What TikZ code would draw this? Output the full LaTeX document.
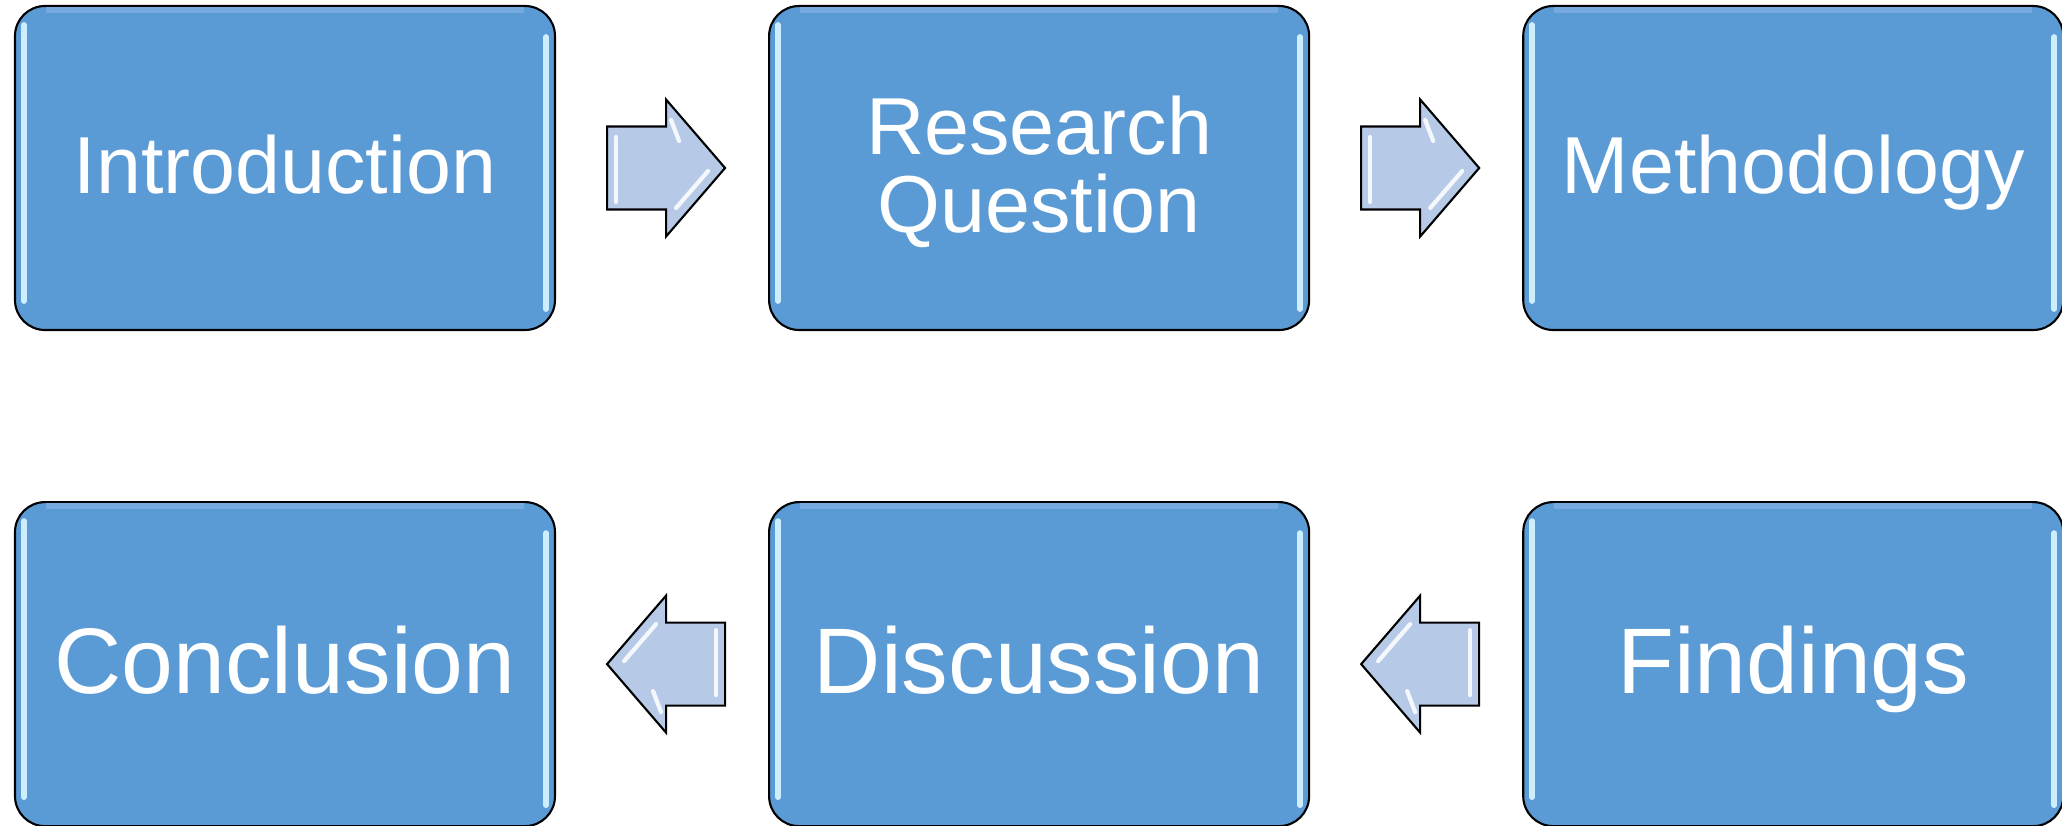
\documentclass[tikz,border=0pt]{standalone}
\usepackage{fontspec}
\setmainfont{Liberation Sans}
\usetikzlibrary{positioning, calc}
\definecolor{stageblue}{RGB}{91,155,213}
\definecolor{arrowblue}{RGB}{182,202,232}
\definecolor{glintblue}{RGB}{205,238,255}
\definecolor{topblue}{RGB}{118,170,222}

\tikzset{
  stage/.style={draw=black, line width=0.6pt, fill=stageblue, rounded corners=0.3cm,
    minimum width=5.4cm, minimum height=3.24cm, inner sep=0pt, text=white,
    align=center, text depth=0.08cm, font=\fontsize{23}{22.2}\selectfont},
  bigstage/.style={stage, font=\fontsize{26.5}{26}\selectfont},
  glint/.style={glintblue, line width=1.6pt, line cap=round},
  shine/.style={white, opacity=0.85, line width=1.2pt, line cap=round},
  rarrow/.pic={
    \draw[fill=arrowblue, line width=0.6pt, line join=miter]
      (-0.59,-0.415) -- (0,-0.415) -- (0,-0.685) -- (0.59,0)
      -- (0,0.685) -- (0,0.415) -- (-0.59,0.415) -- cycle;
    \draw[shine] (-0.5,-0.34) -- (-0.5,0.31);
    \draw[shine] (0.1,-0.4) -- (0.42,-0.03);
    \draw[shine] (0.05,0.48) -- (0.13,0.27);
  }
}

\begin{document}
\begin{tikzpicture}
    \useasboundingbox (0,0) rectangle (20.62,-8.26);

    % Top row
    \node[stage] (intro) at (2.85,-1.68) {Introduction};
    \node[stage, right=2.12cm of intro] (rq) {Research\\Question};
    \node[stage, right=2.12cm of rq] (meth) {Methodology};

    % Bottom row
    \node[bigstage, below=1.7cm of intro] (concl) {Conclusion};
    \node[bigstage, below=1.7cm of rq] (disc) {Discussion};
    \node[bigstage, below=1.7cm of meth] (find) {Findings};

    % Bevel glints
    \foreach \b in {intro,rq,meth,concl,disc,find} {
        \draw[topblue, line width=1.5pt] ($(\b.north west)+(0.32,-0.05)$) -- ($(\b.north east)+(-0.32,-0.05)$);
        \draw[glint] ($(\b.north west)+(0.1,-0.2)$) -- ($(\b.south west)+(0.1,0.3)$);
        \draw[glint] ($(\b.north east)+(-0.1,-0.32)$) -- ($(\b.south east)+(-0.1,0.22)$);
    }

    % Block arrows
    \coordinate (a1) at ($(intro.east)!0.5!(rq.west)+(0.04,0)$);
    \coordinate (a2) at ($(rq.east)!0.5!(meth.west)+(0.04,0)$);
    \coordinate (a3) at ($(disc.east)!0.5!(find.west)+(0.04,0)$);
    \coordinate (a4) at ($(concl.east)!0.5!(disc.west)+(0.04,0)$);
    \pic at (a1) {rarrow};
    \pic at (a2) {rarrow};
    \pic[rotate=180] at (a3) {rarrow};
    \pic[rotate=180] at (a4) {rarrow};
\end{tikzpicture}
\end{document}
